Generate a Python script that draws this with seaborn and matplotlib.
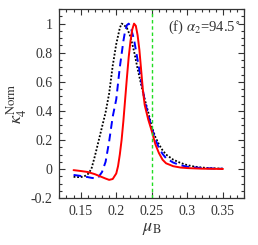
import numpy as np
import pandas as pd
import matplotlib
matplotlib.use("Agg")
import matplotlib.pyplot as plt
import seaborn as sns
from matplotlib.ticker import MultipleLocator

# values
mu_red = [0.14, 0.15, 0.16, 0.17, 0.18, 0.185, 0.19, 0.195, 0.20, 0.2025, 0.205, 0.2075,
          0.21, 0.2125, 0.215, 0.2175, 0.22, 0.2225, 0.225, 0.2275, 0.23, 0.2325, 0.235,
          0.2375, 0.24, 0.245, 0.25, 0.255, 0.26, 0.265, 0.27, 0.28, 0.29, 0.30, 0.32, 0.35]
k_red = [-0.007, -0.013, -0.02, -0.035, -0.055, -0.065, -0.074, -0.068, -0.03, 0.02, 0.10, 0.20,
         0.33, 0.48, 0.63, 0.77, 0.88, 0.96, 1.0, 0.985, 0.92, 0.82, 0.68,
         0.54, 0.44, 0.34, 0.26, 0.17, 0.11, 0.065, 0.04, 0.02, 0.011, 0.007, 0.003, 0.001]

mu_blue = [0.14, 0.15, 0.16, 0.165, 0.17, 0.175, 0.18, 0.185, 0.19, 0.195, 0.20, 0.205, 0.21,
           0.2125, 0.215, 0.2175, 0.22, 0.225, 0.23, 0.235, 0.24, 0.245, 0.25, 0.255, 0.26,
           0.265, 0.27, 0.28, 0.29, 0.30, 0.32, 0.35]
k_blue = [-0.04, -0.047, -0.055, -0.06, -0.063, -0.055, -0.02, 0.05, 0.19, 0.36, 0.48, 0.70, 0.88,
          0.95, 0.99, 1.0, 0.98, 0.89, 0.75, 0.61, 0.47, 0.37, 0.28, 0.205, 0.145,
          0.105, 0.075, 0.045, 0.027, 0.016, 0.007, 0.002]

mu_black = [0.14, 0.145, 0.15, 0.155, 0.16, 0.165, 0.17, 0.175, 0.18, 0.185, 0.19, 0.195, 0.20,
            0.205, 0.2075, 0.21, 0.215, 0.22, 0.225, 0.23, 0.235, 0.24, 0.245, 0.25, 0.255,
            0.26, 0.265, 0.27, 0.28, 0.29, 0.30, 0.31, 0.32, 0.33, 0.35]
k_black = [-0.053, -0.055, -0.055, -0.05, -0.035, 0.0, 0.09, 0.19, 0.29, 0.39, 0.52, 0.71, 0.86,
           0.97, 1.0, 0.995, 0.97, 0.91, 0.81, 0.69, 0.58, 0.48, 0.39, 0.29, 0.22,
           0.17, 0.13, 0.10, 0.065, 0.043, 0.027, 0.017, 0.011, 0.007, 0.003]

mu_line = 0.25
label_text = r"(f) $\alpha_2$=94.5$^\circ$"

sns.set_style("ticks")
plt.rcParams["font.family"] = ["Liberation Serif", "DejaVu Serif"]
plt.rcParams["mathtext.fontset"] = "stix"

fig = plt.figure(figsize=(2.58, 2.45), dpi=100)
ax = fig.add_axes([0.230, 0.191, 0.717, 0.772])

series = [
    (mu_black, k_black, "black", (0, (1, 1)), 1.3),
    (mu_blue, k_blue, "blue", (0, (4, 2.5)), 1.4),
    (mu_red, k_red, "red", "-", 1.4),
]
for mu, k, col, ls, lw in series:
    df = pd.DataFrame({"mu": mu, "k": k})
    sns.lineplot(data=df, x="mu", y="k", ax=ax, color=col, linestyle=ls, linewidth=lw)

ax.axvline(mu_line, color="#22dd22", linestyle=(0, (2.5, 2)), linewidth=1.0)

ax.set_xlim(0.12, 0.38)
ax.set_ylim(-0.2, 1.1)
ax.xaxis.set_minor_locator(MultipleLocator(0.01))
ax.yaxis.set_minor_locator(MultipleLocator(0.05))
ax.set_xticks([0.15, 0.2, 0.25, 0.3, 0.35])
ax.set_xticklabels(["0.15", "0.2", "0.25", "0.3", "0.35"])
ax.set_yticks([-0.2, 0, 0.2, 0.4, 0.6, 0.8, 1.0])
ax.set_yticklabels(["-0.2", "0", "0.2", "0.4", "0.6", "0.8", "1"])
ax.tick_params(which="both", direction="in", top=True, right=True, labelsize=10,
               width=0.8, color="#333333", labelcolor="#333333")
ax.tick_params(which="major", length=4, pad=5)
ax.tick_params(which="minor", length=2)
for s in ax.spines.values():
    s.set_linewidth(0.9)
    s.set_color("#333333")

ax.set_xlabel(r"$\mu_{\rm B}$", fontsize=13, labelpad=1, color="#333333")
ax.set_ylabel(r"$\kappa_4^{\rm Norm}$", fontsize=13, labelpad=1, color="#333333")
ax.text(0.98, 0.905, label_text, transform=ax.transAxes, ha="right", va="center",
        fontsize=10.5, color="#333333")

fig.savefig("out.png", dpi=100)
